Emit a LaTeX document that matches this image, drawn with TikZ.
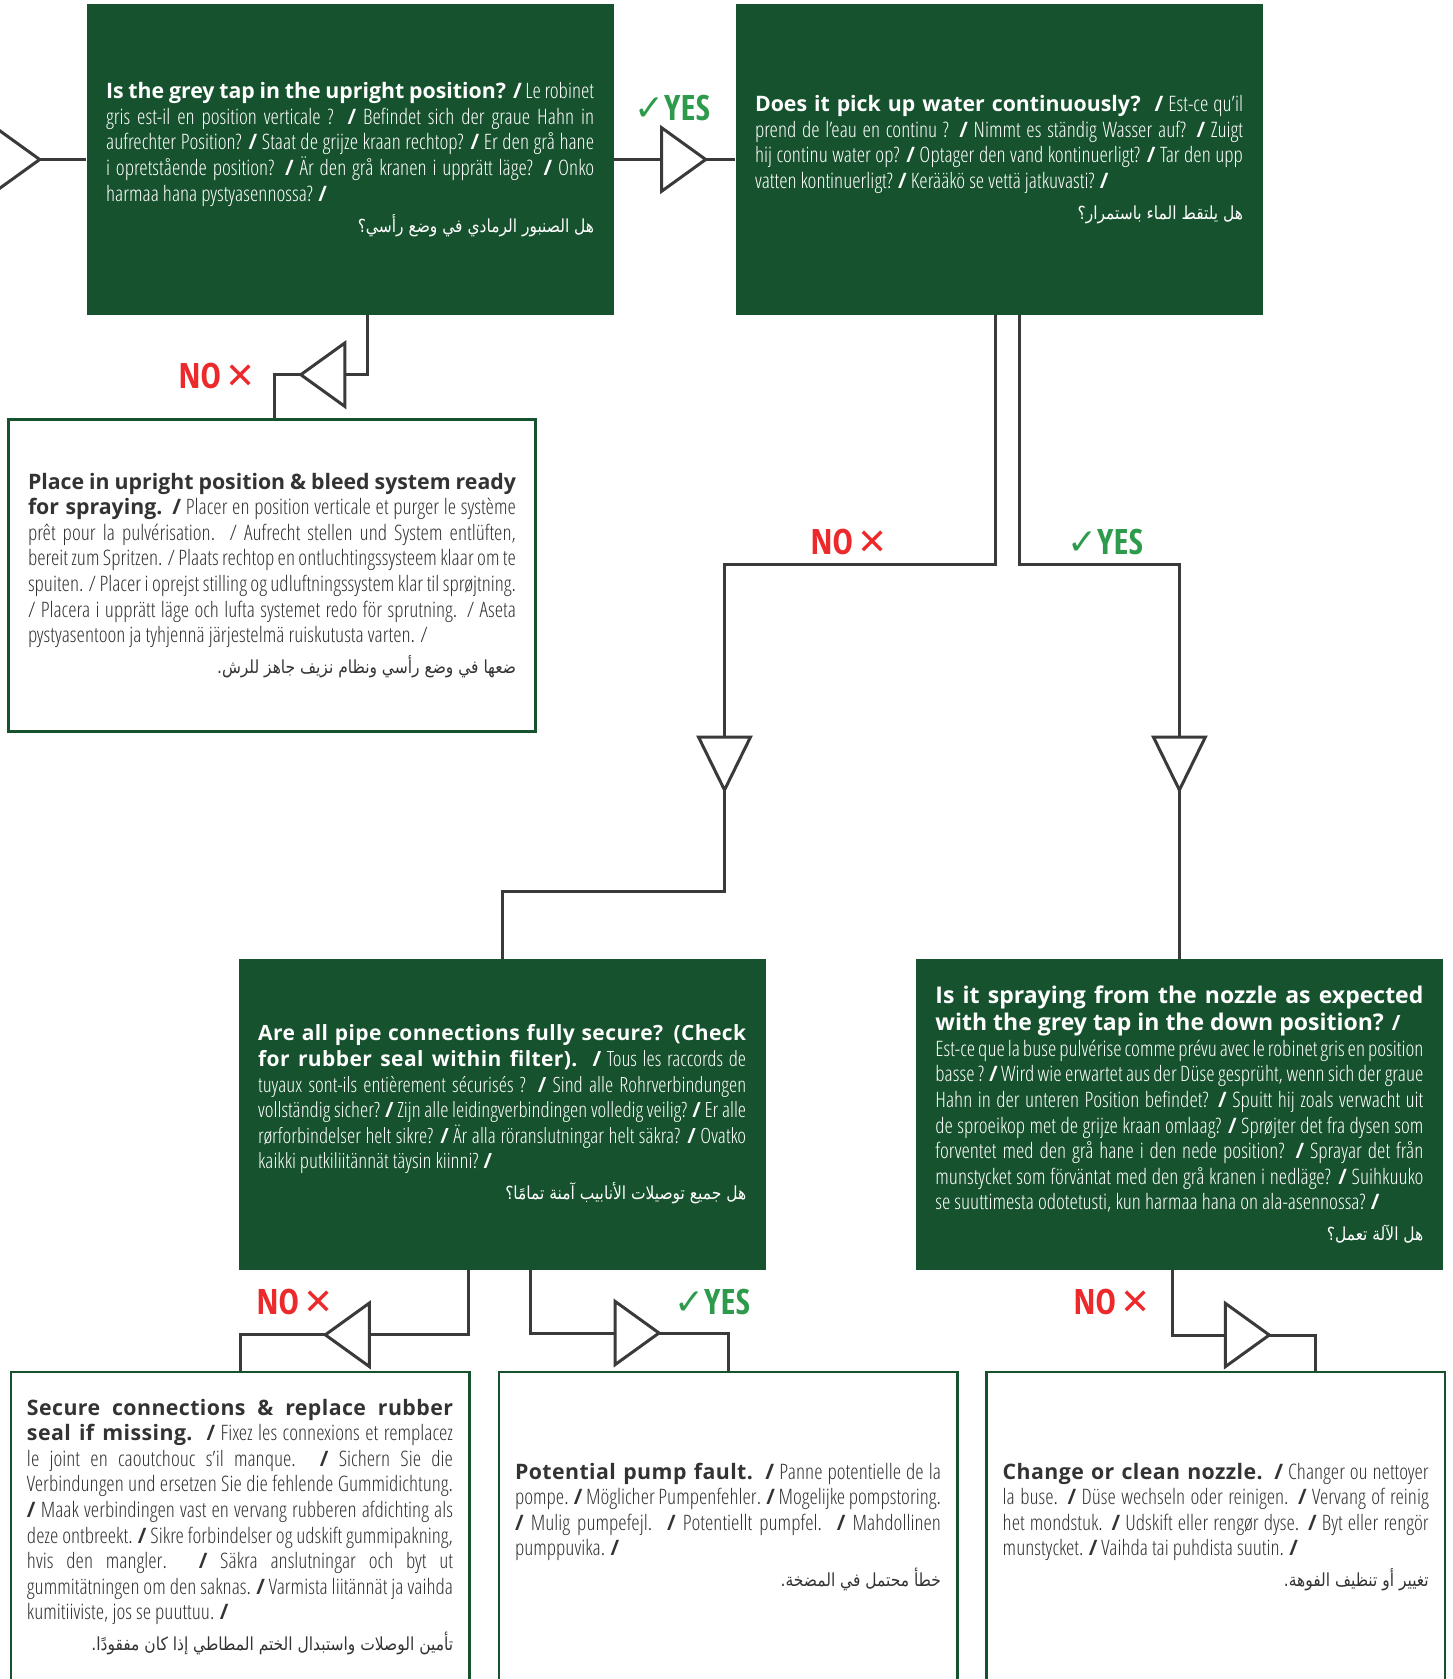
\documentclass[tikz,border=0pt]{standalone}
\usepackage{fontspec}
\setmainfont{Open Sans}
\TeXXeTstate=1
\newfontfamily\arabicfont[Script=Arabic,FakeStretch=0.86]{DejaVu Sans}
\newfontfamily\symfont{DejaVu Sans}
\IfFontExistsTF{OpenSans-CondLight.ttf}
 {\newfontfamily\condlight{OpenSans-CondLight.ttf}}
 {\newfontfamily\condlight[FakeStretch=0.76]{Open Sans}}
\IfFontExistsTF{OpenSans-CondBold.ttf}
 {\newfontfamily\condbold[BoldFont=OpenSans-CondBold.ttf]{OpenSans-CondBold.ttf}}
 {\newfontfamily\condbold[FakeStretch=0.82]{Open Sans}}
\newfontfamily\widebold[LetterSpace=2]{Open Sans}
\definecolor{dgreen}{HTML}{17522F}
\definecolor{lineg}{HTML}{3A3A3C}
\definecolor{nored}{HTML}{EC2A2C}
\definecolor{yesgreen}{HTML}{2E9B4C}
\definecolor{txt}{HTML}{333333}
\hyphenpenalty=10000
\exhyphenpenalty=10000
\tolerance=9999
\emergencystretch=30pt
\newcommand\cb[1]{{\condbold\bfseries #1}}
\newcommand\hb[1]{{\rmfamily\bfseries #1}}
\newcommand\wbf[1]{{\widebold\bfseries #1}}
\newcommand\bodyfont{\condlight\fontsize{21.3}{25.6}\selectfont}
\newcommand\tightfont{\condlight\fontsize{21}{25.6}\selectfont}
\newcommand\arline[1]{\par\vspace{6pt}{\raggedleft\arabicfont\fontsize{18}{25}\selectfont\beginR #1\endR\par}}
\tikzset{
 qbox/.style={fill=dgreen, draw=none, text=white, text width=488pt, inner xsep=19.5pt, inner ysep=0pt, minimum height=310.5pt, align=justify, font=\bodyfont},
 abox/.style={fill=white, draw=dgreen, line width=2.5pt, text=txt, text width=488pt, inner xsep=19.5pt, inner ysep=0pt, minimum height=311.6pt, align=justify, font=\bodyfont},
 sbox/.style={fill=white, draw=dgreen, line width=2.5pt, text=txt, text width=426pt, inner xsep=16.25pt, inner ysep=0pt, minimum height=310.5pt, align=justify, font=\bodyfont},
 conn/.style={draw=lineg, line width=3pt},
 tri/.style={draw=lineg, line width=3pt, fill=white, line join=miter},
 nol/.style={text=nored, inner sep=0pt, font=\condbold\bfseries\fontsize{35}{35}\selectfont},
 yesl/.style={text=yesgreen, inner sep=0pt, font=\condbold\bfseries\fontsize{35}{35}\selectfont},
 triR/.pic={\draw[tri] (0,-31.7) -- (44,0) -- (0,31.7) -- cycle; \coordinate (-in) at (0,0); \coordinate (-out) at (44,0);},
 triL/.pic={\draw[tri] (0,-31.7) -- (-44,0) -- (0,31.7) -- cycle; \coordinate (-in) at (0,0); \coordinate (-out) at (-44,0);},
 triD/.pic={\draw[tri] (-26,0) -- (0,53) -- (26,0) -- cycle; \coordinate (-in) at (0,0); \coordinate (-out) at (0,53);}
}
\newcommand\nolab{NO\hspace{4pt}{\symfont\mdseries\fontsize{36}{36}\selectfont ✕}}
\newcommand\yeslab{{\symfont\mdseries\fontsize{36}{36}\selectfont ✓}YES}
\begin{document}
\begin{tikzpicture}[x=1pt,y=-1pt]
\useasboundingbox (0,0) rectangle (1453,1679);
\clip (0,0) rectangle (1453,1679);
\fill[white] (0,0) rectangle (1453,1679);

% question boxes
\node[qbox] (q1) at (350.1,159.5) {\hb{Is the grey tap in the upright position? /} Le robinet gris est-il en position verticale ? \cb{/} Befindet sich der graue Hahn in aufrechter Position? \cb{/} Staat de grijze kraan rechtop? \cb{/} Er den grå hane i opretstående position? \cb{/} Är den grå kranen i upprätt läge? \cb{/} Onko harmaa hana pystyasennossa? \cb{/}\arline{هل الصنبور الرمادي في وضع رأسي؟}};

\node[qbox] (q2) at (999,159.5) {\hb{Does it pick up water continuously?\ \ /} Est-ce qu’il prend de l’eau en continu ? \cb{/} Nimmt es ständig Wasser auf? \cb{/} Zuigt hij continu water op? \cb{/} Optager den vand kontinuerligt? \cb{/} Tar den upp vatten kontinuerligt? \cb{/} Kerääkö se vettä jatkuvasti? \cb{/}\arline{هل يلتقط الماء باستمرار؟}};

\node[abox] (a1) at (272,575.5) {\hb{Place in upright position \& bleed system ready for spraying. /} Placer en position verticale et purger le système prêt pour la pulvérisation. / Aufrecht stellen und System entlüften, bereit zum Spritzen. / Plaats rechtop en ontluchtingssysteem klaar om te spuiten. / Placer i oprejst stilling og udluftningssystem klar til sprøjtning. / Placera i upprätt läge och lufta systemet redo för sprutning. / Aseta pystyasentoon ja tyhjennä järjestelmä ruiskutusta varten. /\arline{ضعها في وضع رأسي ونظام نزيف جاهز للرش.}};

\node[qbox, font=\tightfont] (q3) at (502.2,1114.6) {\wbf{Are all pipe connections fully secure? (Check for rubber seal within filter). /} Tous les raccords de tuyaux sont-ils entièrement sécurisés ? \cb{/} Sind alle Rohrverbindungen vollständig sicher? \cb{/} Zijn alle leidingverbindingen volledig veilig? \cb{/} Er alle rørforbindelser helt sikre? \cb{/} Är alla röranslutningar helt säkra? \cb{/} Ovatko kaikki putkiliitännät täysin kiinni? \cb{/}\arline{هل جميع توصيلات الأنابيب آمنة تمامًا؟}};

\node[qbox] (q4) at (1179.4,1114.6) {{\rmfamily\bfseries\fontsize{23}{27.5}\selectfont Is it spraying from the nozzle as expected with the grey tap in the down position? {\fontsize{21}{25}\selectfont/}\par}Est-ce que la buse pulvérise comme prévu avec le robinet gris en position basse ? \cb{/} Wird wie erwartet aus der Düse gesprüht, wenn sich der graue Hahn in der unteren Position befindet? \cb{/} Spuitt hij zoals verwacht uit de sproeikop met de grijze kraan omlaag? \cb{/} Sprøjter det fra dysen som forventet med den grå hane i den nede position? \cb{/} Sprayar det från munstycket som förväntat med den grå kranen i nedläge? \cb{/} Suihkuuko se suuttimesta odotetusti, kun harmaa hana on ala-asennossa? \cb{/}\arline{هل الآلة تعمل؟}};

% answer boxes
\node[sbox] (a2) at (240,1527) {\wbf{Secure connections \& replace rubber seal if missing.}\hspace{14pt}\cb{/} Fixez les connexions et remplacez le joint en caoutchouc s’il manque. \cb{/} Sichern Sie die Verbindungen und ersetzen Sie die fehlende Gummidichtung. \cb{/} Maak verbindingen vast en vervang rubberen afdichting als deze ontbreekt. \cb{/} Sikre forbindelser og udskift gummipakning, hvis den mangler. \cb{/} Säkra anslutningar och byt ut gummitätningen om den saknas. \cb{/} Varmista liitännät ja vaihda kumitiiviste, jos se puuttuu. \cb{/}\arline{تأمين الوصلات واستبدال الختم المطاطي إذا كان مفقودًا.}};

\node[sbox] (a3) at (728,1527) {\wbf{Potential pump fault. /} Panne potentielle de la pompe. \cb{/} Möglicher Pumpenfehler. \cb{/} Mogelijke pompstoring. \cb{/} Mulig pumpefejl. \cb{/} Potentiellt pumpfel. \cb{/} Mahdollinen pumppuvika. \cb{/}\arline{خطأ محتمل في المضخة.}};

\node[sbox] (a4) at (1215.7,1527) {\wbf{Change or clean nozzle. /} Changer ou nettoyer la buse. \cb{/} Düse wechseln oder reinigen. \cb{/} Vervang of reinig het mondstuk. \cb{/} Udskift eller rengør dyse. \cb{/} Byt eller rengör munstycket. \cb{/} Vaihda tai puhdista suutin. \cb{/}\arline{تغيير أو تنظيف الفوهة.}};

% connectors
\pic (t0) at (-4.3,159.5) {triR};
\draw[conn] (t0-out) -- (q1.west);

\pic (t1) at (661.7,159.5) {triR};
\draw[conn] (q1.east) -- (t1-in);
\draw[conn] (t1-out) -- (q2.west);

\pic (t2) at (344.8,374.7) {triL};
\draw[conn] ([xshift=17.2pt]q1.south) |- (t2-in);
\draw[conn] (t2-out) -| ([xshift=2pt]a1.north);

\coordinate (n2) at (724.5,564);
\coordinate (y2) at (1179.4,564);
\pic (t3) at (724.5,737) {triD};
\draw[conn] ([xshift=-3.4pt]q2.south) |- (n2) -- (t3-in);
\coordinate (m2) at ([yshift=67.4pt]q3.north);
\draw[conn] (t3-out) |- (m2) -- (q3.north);

\pic (t4) at (1179.4,737) {triD};
\draw[conn] ([xshift=20.5pt]q2.south) |- (y2) -- (t4-in);
\draw[conn] (t4-out) -- (q4.north);

\pic (t5) at (369.3,1334.8) {triL};
\draw[conn] ([xshift=-34.2pt]q3.south) |- (t5-in);
\draw[conn] (t5-out) -| (a2.north);

\pic (t6) at (615,1333) {triR};
\draw[conn] ([xshift=27.8pt]q3.south) |- (t6-in);
\draw[conn] (t6-out) -| (a3.north);

\pic (t7) at (1225.3,1335) {triR};
\draw[conn] ([xshift=-7.4pt]q4.south) |- (t7-in);
\draw[conn] (t7-out) -| ([xshift=99.3pt]a4.north);

% labels
\node[yesl] (l1) at (672,108) {\yeslab};
\node[nol] (l2) at (217,376) {\nolab};
\node[nol] (l3) at (849,542) {\nolab};
\node[yesl] (l4) at (1105,542) {\yeslab};
\node[nol] (l5) at (295,1302) {\nolab};
\node[yesl] (l6) at (712,1302) {\yeslab};
\node[nol] (l7) at (1112,1302) {\nolab};
\end{tikzpicture}
\end{document}
